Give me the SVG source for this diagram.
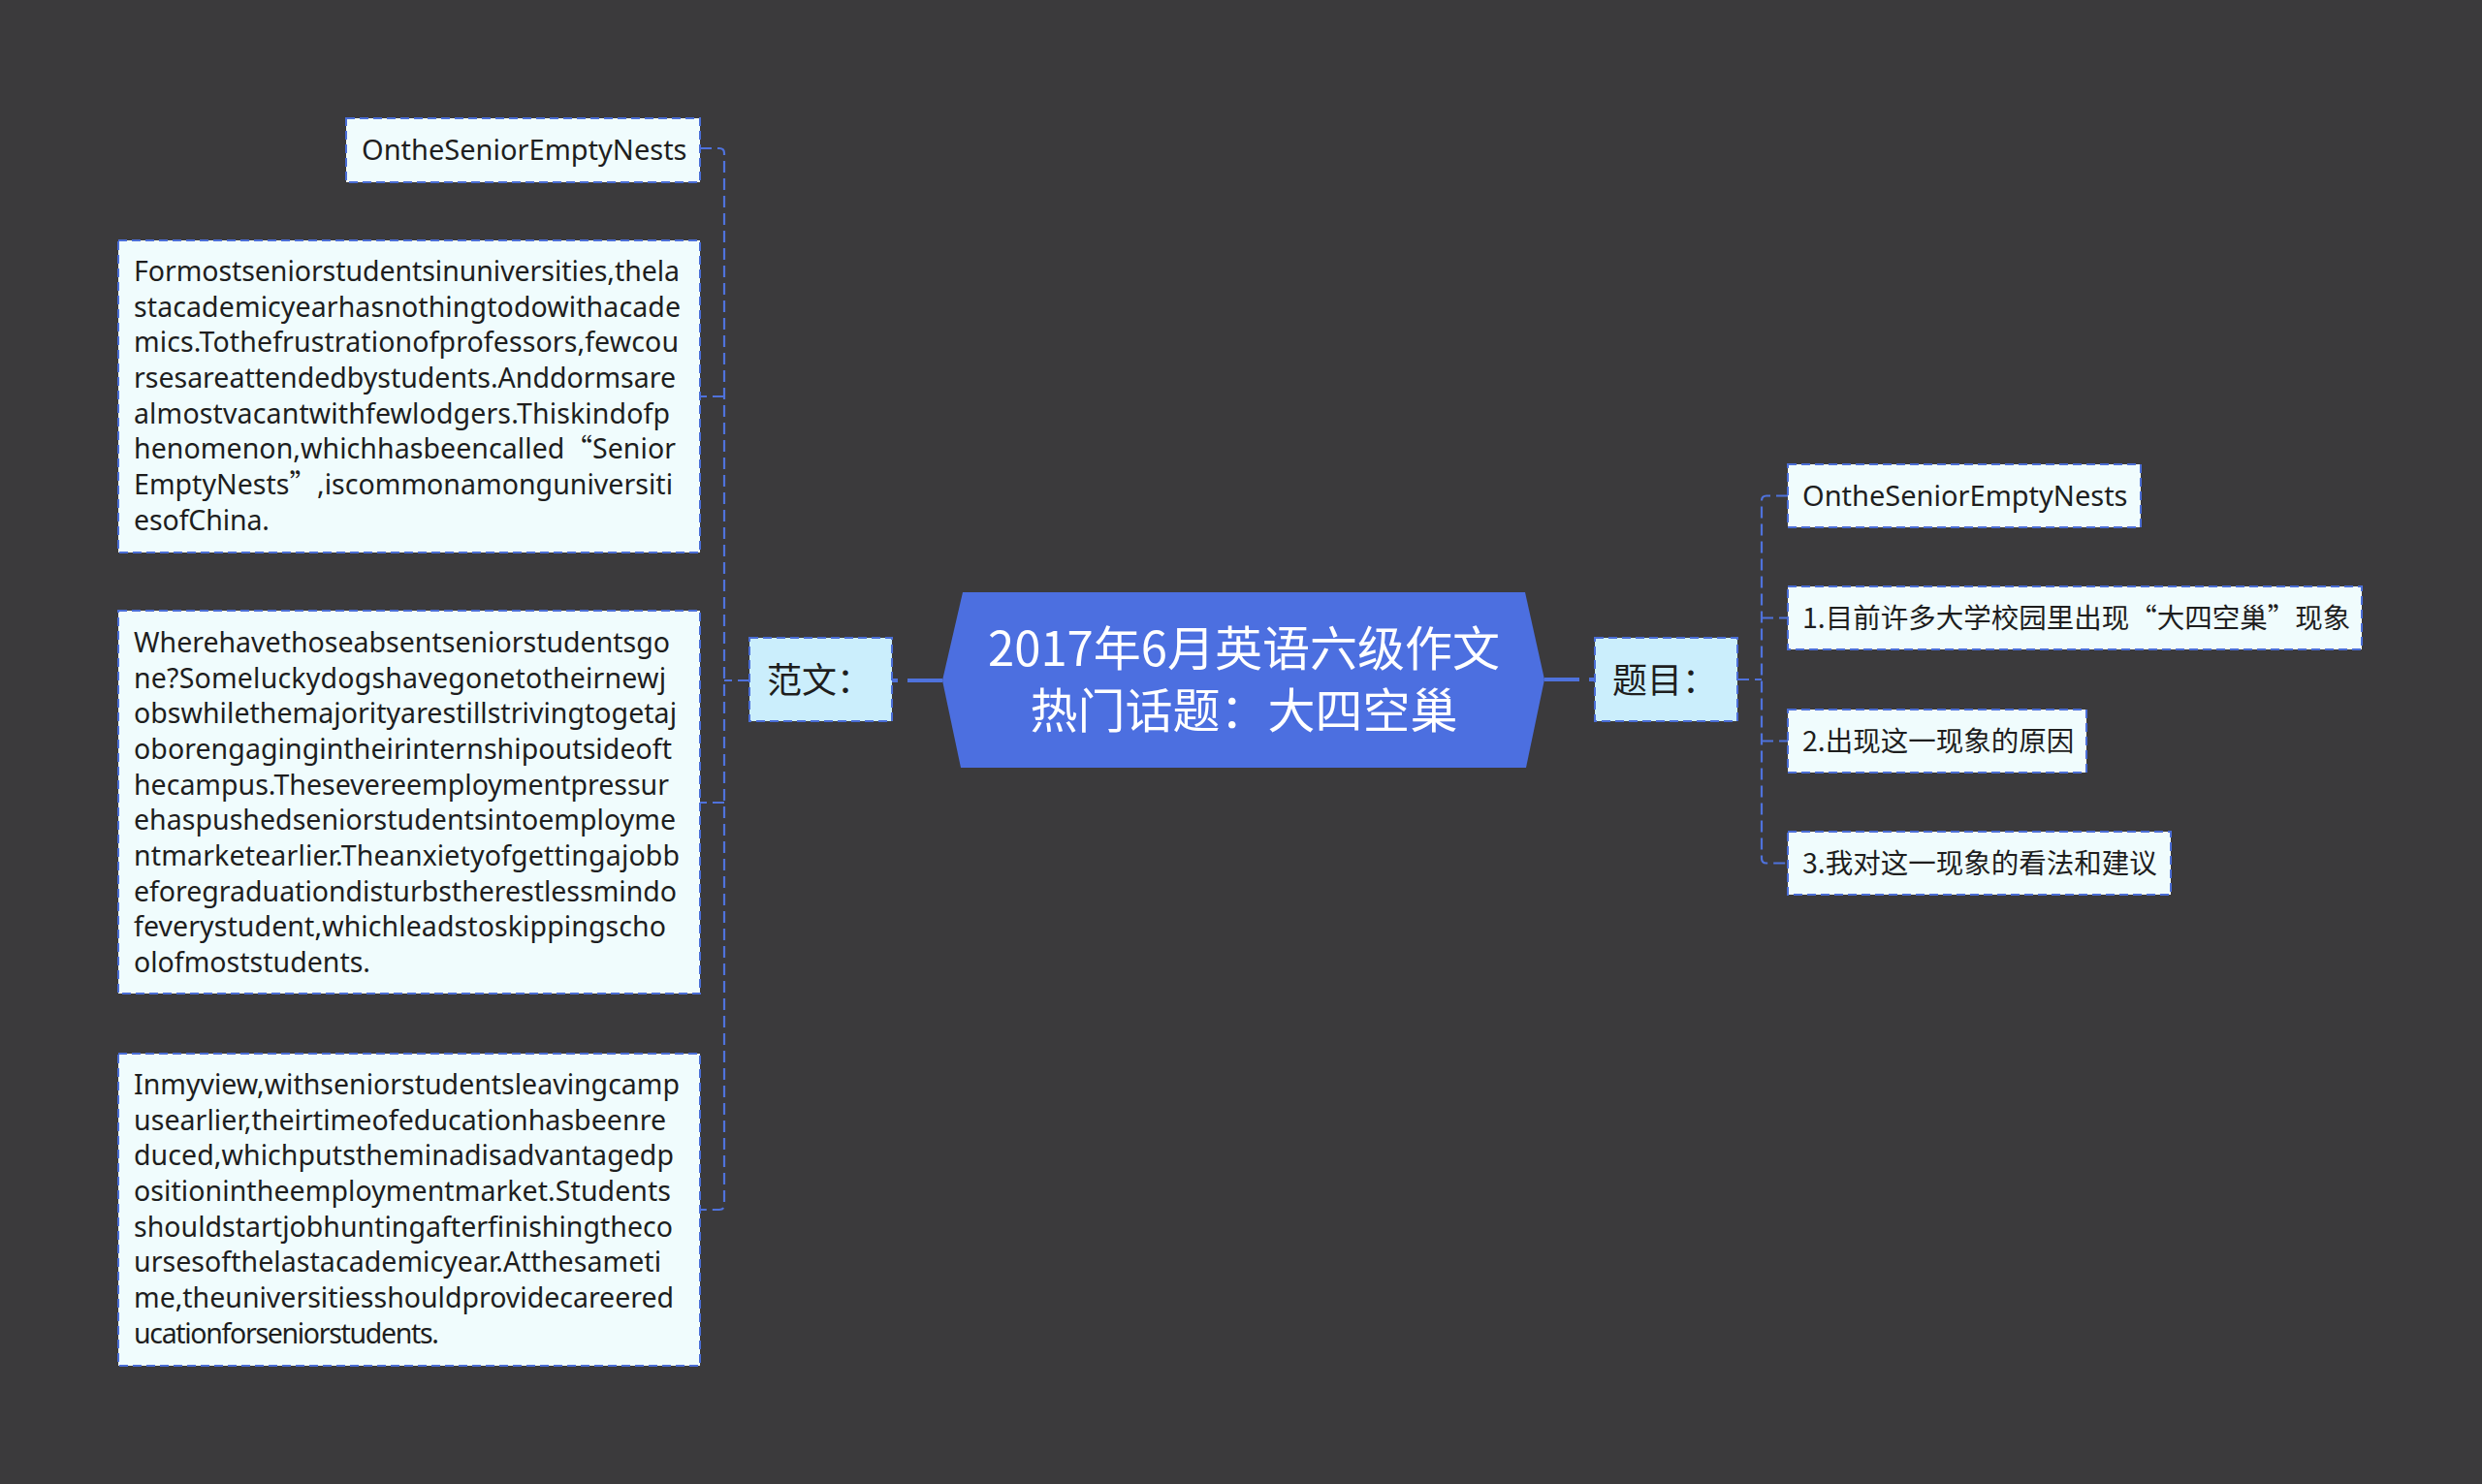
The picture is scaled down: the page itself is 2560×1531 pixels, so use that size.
<svg xmlns="http://www.w3.org/2000/svg" width="2560" height="1531" viewBox="0 0 2560 1531">
<style>
.bg{fill:#3b3a3c}
.root{fill:#4c6fe0}
.sub{fill:#cbeefc;stroke:#4a6dd6;stroke-width:2;stroke-dasharray:9 5}
.leaf{fill:#f0fcfd;stroke:#4a6dd6;stroke-width:2;stroke-dasharray:9 5}
.t{font-family:"Noto Sans","Noto Sans CJK SC",sans-serif;fill:#1e1e1e}
.c{font-family:"Noto Sans CJK SC","Noto Sans",sans-serif;fill:#1e1e1e}
.p{font-family:"Noto Sans","Noto Sans CJK SC",sans-serif;font-size:28.5px;fill:#1e1e1e}
.q{font-family:"Noto Sans CJK SC",sans-serif}
.rt{font-family:"Noto Sans CJK SC","Noto Sans",sans-serif;font-size:49px;fill:#ffffff;text-anchor:middle}
.conn{fill:none;stroke:#4f72dc;stroke-width:2.2;stroke-dasharray:12 6}
.main{fill:none;stroke:#4f72dc;stroke-width:4;stroke-dasharray:36 10}
</style>
<rect class="bg" x="0" y="0" width="2560" height="1531"/>

<g id="connectors">
  <line class="main" x1="972" y1="702" x2="920" y2="702"/>
  <line class="main" x1="1593" y1="701" x2="1645" y2="701"/>
  <line class="conn" x1="773" y1="702" x2="747" y2="702"/>
  <path class="conn" d="M722,153 H742 Q747,153 747,158 V1243 Q747,1248 742,1248 H722"/>
  <line class="conn" x1="747" y1="409" x2="722" y2="409"/>
  <line class="conn" x1="747" y1="828" x2="722" y2="828"/>
  <line class="conn" x1="1792" y1="701" x2="1817" y2="701"/>
  <path class="conn" d="M1844,511.5 H1822 Q1817,511.5 1817,516.5 V885.5 Q1817,890.5 1822,890.5 H1844"/>
  <line class="conn" x1="1817" y1="637.5" x2="1844" y2="637.5"/>
  <line class="conn" x1="1817" y1="764.5" x2="1844" y2="764.5"/>
</g>

<g id="root">
  <polygon class="root" points="993,611 1573,611 1593,701 1574,792 991,792 972,702"/>
  <text class="rt" x="1283" y="687">2017年6月英语六级作文</text>
  <text class="rt" x="1283" y="751">热门话题：大四空巢</text>
</g>

<g id="fanwen">
  <rect class="sub" x="773" y="658" width="147" height="86"/>
  <text class="c" x="791" y="715" font-size="36">范文：</text>
</g>

<g id="timu">
  <rect class="sub" x="1645" y="658" width="147" height="86"/>
  <text class="c" x="1663" y="715" font-size="36">题目：</text>
</g>

<g id="left-title">
  <rect class="leaf" x="357" y="122" width="365" height="66"/>
  <text class="t" x="373" y="165" font-size="29">OntheSeniorEmptyNests</text>
</g>

<g id="para1">
  <rect class="leaf" x="122" y="248" width="600" height="322"/>
  <text class="p" x="138" y="290" textLength="563">Formostseniorstudentsinuniversities,thela</text>
  <text class="p" x="138" y="326.65" textLength="564">stacademicyearhasnothingtodowithacade</text>
  <text class="p" x="138" y="363.3" textLength="562">mics.Tothefrustrationofprofessors,fewcou</text>
  <text class="p" x="138" y="399.95" textLength="559">rsesareattendedbystudents.Anddormsare</text>
  <text class="p" x="138" y="436.6" textLength="553">almostvacantwithfewlodgers.Thiskindofp</text>
  <text class="p" x="138" y="473.25" textLength="559">henomenon,whichhasbeencalled<tspan class="q">“</tspan>Senior</text>
  <text class="p" x="138" y="509.9" textLength="556">EmptyNests<tspan class="q">”</tspan>,iscommonamonguniversiti</text>
  <text class="p" x="138" y="546.55" textLength="140">esofChina.</text>
</g>

<g id="para2">
  <rect class="leaf" x="122" y="630" width="600" height="395"/>
  <text class="p" x="138" y="673" textLength="553">Wherehavethoseabsentseniorstudentsgo</text>
  <text class="p" x="138" y="709.65" textLength="549">ne?Someluckydogshavegonetotheirnewj</text>
  <text class="p" x="138" y="746.3" textLength="560">obswhilethemajorityarestillstrivingtogetaj</text>
  <text class="p" x="138" y="782.95" textLength="555">oborengagingintheirinternshipoutsideoft</text>
  <text class="p" x="138" y="819.6" textLength="552">hecampus.Thesevereemploymentpressur</text>
  <text class="p" x="138" y="856.25" textLength="559">ehaspushedseniorstudentsintoemployme</text>
  <text class="p" x="138" y="892.9" textLength="563">ntmarketearlier.Theanxietyofgettingajobb</text>
  <text class="p" x="138" y="929.55" textLength="560">eforegraduationdisturbstherestlessmindo</text>
  <text class="p" x="138" y="966.2" textLength="549">feverystudent,whichleadstoskippingscho</text>
  <text class="p" x="138" y="1002.85" textLength="244">olofmoststudents.</text>
</g>

<g id="para3">
  <rect class="leaf" x="122" y="1087" width="600" height="322"/>
  <text class="p" x="138" y="1129" textLength="563">Inmyview,withseniorstudentsleavingcamp</text>
  <text class="p" x="138" y="1165.65" textLength="549">usearlier,theirtimeofeducationhasbeenre</text>
  <text class="p" x="138" y="1202.3" textLength="557">duced,whichputstheminadisadvantagedp</text>
  <text class="p" x="138" y="1238.95" textLength="554">ositionintheemploymentmarket.Students</text>
  <text class="p" x="138" y="1275.6" textLength="556">shouldstartjobhuntingafterfinishingtheco</text>
  <text class="p" x="138" y="1312.25" textLength="544">ursesofthelastacademicyear.Atthesameti</text>
  <text class="p" x="138" y="1348.9" textLength="557">me,theuniversitiesshouldprovidecareered</text>
  <text class="p" x="138" y="1385.55" textLength="315">ucationforseniorstudents.</text>
</g>

<g id="right-title">
  <rect class="leaf" x="1844" y="479" width="364" height="65"/>
  <text class="t" x="1859" y="522" font-size="29">OntheSeniorEmptyNests</text>
</g>

<g id="item1">
  <rect class="leaf" x="1844" y="605" width="592" height="65"/>
  <text class="c" x="1859" y="648" font-size="28.5">1.目前许多大学校园里出现“大四空巢”现象</text>
</g>

<g id="item2">
  <rect class="leaf" x="1844" y="732" width="308" height="65"/>
  <text class="c" x="1859" y="775" font-size="28.5">2.出现这一现象的原因</text>
</g>

<g id="item3">
  <rect class="leaf" x="1844" y="858" width="395" height="65"/>
  <text class="c" x="1859" y="901" font-size="28.5">3.我对这一现象的看法和建议</text>
</g>
</svg>
